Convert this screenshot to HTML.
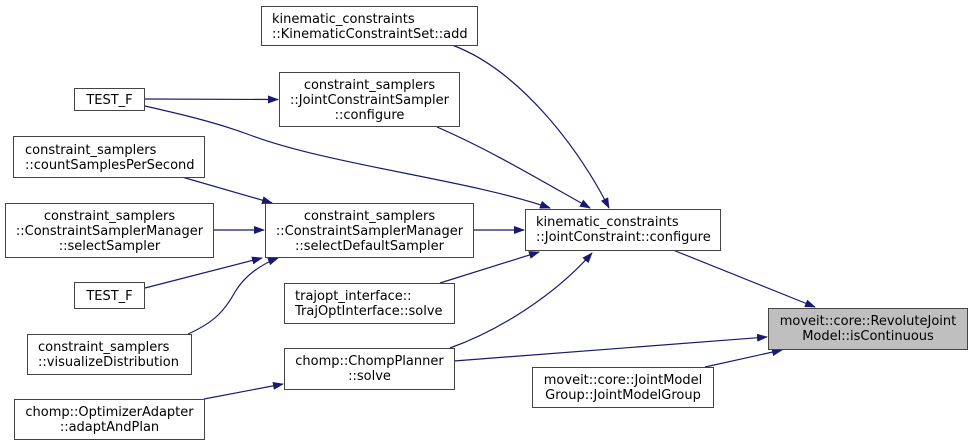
<!DOCTYPE html>
<html><head><meta charset="utf-8"><style>
body{margin:0;background:#fff}
svg{display:block}
text{font-family:"DejaVu Sans","Liberation Sans",sans-serif;font-size:13px;fill:#000}
</style></head><body>
<svg width="972" height="445" viewBox="0 0 972 445" xmlns="http://www.w3.org/2000/svg">
<defs><marker id="a" markerWidth="11" markerHeight="8" refX="10" refY="4" orient="auto" markerUnits="userSpaceOnUse"><path d="M0,0 L11,4 L0,8 z" fill="#191970"/></marker></defs>
<g fill="none" stroke="#191970" stroke-width="1.2" marker-end="url(#a)">
<path d="M452,45 C520,70 580,150 609,208"/>
<path d="M437,127 C490,150 540,180 590,208"/>
<path d="M145,99 L278,99.5"/>
<path d="M145,106 C180,114 215,122 250,135 C330,165 470,180 550,208"/>
<path d="M182,177 L272,203"/>
<path d="M213,230 L264,230"/>
<path d="M145,288 L262,258"/>
<path d="M188,334 C215,322 225,310 235,292 C245,275 262,264 278,258"/>
<path d="M473,230 L524,230"/>
<path d="M440,283 L539,252"/>
<path d="M450,348 C500,330 555,295 592,253"/>
<path d="M673,250 L815,307"/>
<path d="M454,361 L767,337"/>
<path d="M705,367 L782,350"/>
<path d="M204,399 L283,384"/>
</g>
<g stroke="#444" stroke-width="1" fill="#fff">
<rect x="261.5" y="6.5" width="216" height="39"/>
<rect x="74.5" y="88.5" width="70" height="22"/>
<rect x="279.5" y="72.5" width="180" height="54"/>
<rect x="13.5" y="136.5" width="191" height="41"/>
<rect x="5.5" y="203.5" width="208" height="54"/>
<rect x="265.5" y="203.5" width="208" height="54"/>
<rect x="74.5" y="282.5" width="70" height="26"/>
<rect x="27.5" y="334.5" width="164" height="40"/>
<rect x="284.5" y="283.5" width="170" height="40"/>
<rect x="284.5" y="348.5" width="170" height="41"/>
<rect x="14.5" y="399.5" width="190" height="40"/>
<rect x="525.5" y="209.5" width="195" height="41"/>
<rect x="768.5" y="308.5" width="199" height="41" fill="#bfbfbf"/>
<rect x="532.5" y="367.5" width="181" height="40"/>
</g>
<text x="272" y="23">kinematic_constraints</text>
<text x="272" y="38">::KinematicConstraintSet::add</text>
<text x="109.5" y="104" text-anchor="middle">TEST_F</text>
<text x="369.5" y="89" text-anchor="middle">constraint_samplers</text>
<text x="369.5" y="104" text-anchor="middle">::JointConstraintSampler</text>
<text x="369.5" y="119" text-anchor="middle">::configure</text>
<text x="25" y="154">constraint_samplers</text>
<text x="25" y="169">::countSamplesPerSecond</text>
<text x="109.5" y="220" text-anchor="middle">constraint_samplers</text>
<text x="109.5" y="235" text-anchor="middle">::ConstraintSamplerManager</text>
<text x="109.5" y="250" text-anchor="middle">::selectSampler</text>
<text x="369.5" y="220" text-anchor="middle">constraint_samplers</text>
<text x="369.5" y="235" text-anchor="middle">::ConstraintSamplerManager</text>
<text x="369.5" y="250" text-anchor="middle">::selectDefaultSampler</text>
<text x="109.5" y="300" text-anchor="middle">TEST_F</text>
<text x="38" y="351">constraint_samplers</text>
<text x="38" y="366">::visualizeDistribution</text>
<text x="295" y="300">trajopt_interface::</text>
<text x="295" y="315">TrajOptInterface::solve</text>
<text x="369.5" y="365" text-anchor="middle">chomp::ChompPlanner</text>
<text x="369.5" y="380" text-anchor="middle">::solve</text>
<text x="109.5" y="416" text-anchor="middle">chomp::OptimizerAdapter</text>
<text x="109.5" y="431" text-anchor="middle">::adaptAndPlan</text>
<text x="536" y="226">kinematic_constraints</text>
<text x="536" y="241">::JointConstraint::configure</text>
<text x="868" y="325" text-anchor="middle">moveit::core::RevoluteJoint</text>
<text x="868" y="340" text-anchor="middle">Model::isContinuous</text>
<text x="623" y="384" text-anchor="middle">moveit::core::JointModel</text>
<text x="623" y="399" text-anchor="middle">Group::JointModelGroup</text>
</svg>
</body></html>
